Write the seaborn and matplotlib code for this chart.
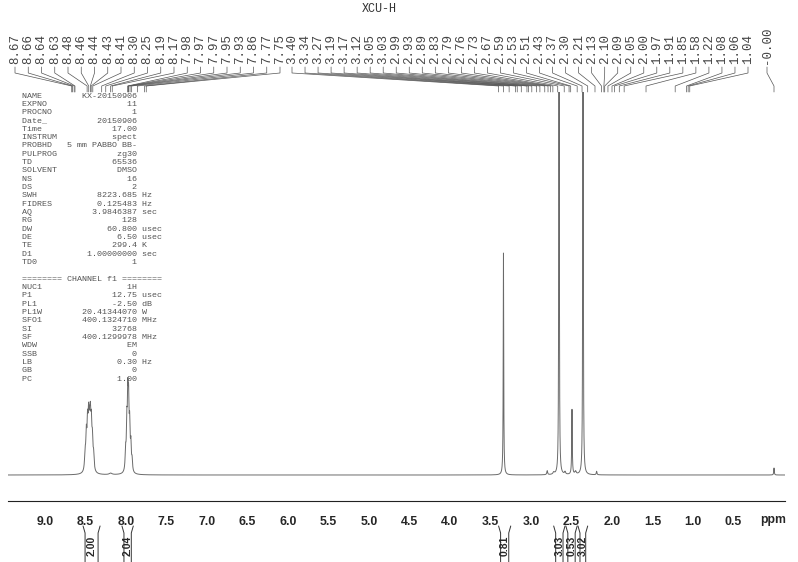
import numpy as np
import pandas as pd
import matplotlib
matplotlib.use("Agg")
import matplotlib.pyplot as plt
from matplotlib.ticker import MultipleLocator, FixedLocator, FuncFormatter
import seaborn as sns

# ---------------- data ----------------
title = "XCU-H"

# resolved lines of the spectrum: position (ppm), height (baseline units), half width (ppm)
peak_ppm = [8.505, 8.49, 8.475, 8.462, 8.45, 8.44, 8.428, 8.415, 8.40, 8.19,
            8.005, 7.99, 7.978, 7.968, 7.955, 7.94, 7.925,
            3.34, 2.80, 2.72, 2.654, 2.58, 2.494, 2.45, 2.358, 2.19, 0.0]
peak_height = [17, 33, 41, 44, 32, 41, 39, 27, 15, 1.5,
               19, 43, 65, 58, 41, 25, 11,
               222, 4, 2, 1500, 2.5, 65, 3, 1500, 3.5, 7]
peak_hwhm = [0.0075, 0.0075, 0.0075, 0.0075, 0.0075, 0.0075, 0.0075, 0.0075, 0.0075, 0.02,
             0.0065, 0.0065, 0.0065, 0.0065, 0.0065, 0.0065, 0.0065,
             0.0035, 0.006, 0.01, 0.002, 0.008, 0.004, 0.01, 0.002, 0.005, 0.004]

peak_labels = ["8.67", "8.66", "8.64", "8.63", "8.48", "8.46", "8.44", "8.43", "8.41",
               "8.30", "8.25", "8.19", "8.17", "7.98", "7.97", "7.97", "7.95", "7.93",
               "7.86", "7.77", "7.75", "3.40", "3.34", "3.27", "3.19", "3.17", "3.12",
               "3.05", "3.03", "2.99", "2.93", "2.89", "2.83", "2.79", "2.76", "2.73",
               "2.67", "2.59", "2.53", "2.51", "2.43", "2.37", "2.30", "2.21", "2.13",
               "2.10", "2.09", "2.05", "2.00", "1.97", "1.91", "1.85", "1.58", "1.22",
               "1.08", "1.06", "1.04", "-0.00"]

integral_values = ["2.00", "2.04", "0.81", "3.03", "0.53", "3.02"]
integral_from = [8.53, 8.05, 3.40, 2.72, 2.57, 2.42]
integral_to = [8.32, 7.91, 3.25, 2.58, 2.43, 2.30]

major_ticks = [9.0, 8.5, 8.0, 7.5, 7.0, 6.5, 6.0, 5.5, 5.0, 4.5, 4.0,
               3.5, 3.0, 2.5, 2.0, 1.5, 1.0, 0.5, 0.0]

param_names = ["NAME", "EXPNO", "PROCNO", "Date_", "Time", "INSTRUM", "PROBHD",
               "PULPROG", "TD", "SOLVENT", "NS", "DS", "SWH", "FIDRES", "AQ", "RG",
               "DW", "DE", "TE", "D1", "TD0"]
param_values = ["KX-20150906", "11", "1", "20150906", "17.00", "spect",
                "5 mm PABBO BB-", "zg30", "65536", "DMSO", "16", "2", "8223.685",
                "0.125483", "3.9846387", "128", "60.800", "6.50", "299.4",
                "1.00000000", "1"]
param_units = ["", "", "", "", "", "", "", "", "", "", "", "", "Hz", "Hz", "sec", "",
               "usec", "usec", "K", "sec", ""]

channel_title = "======== CHANNEL f1 ========"
channel_names = ["NUC1", "P1", "PL1", "PL1W", "SFO1", "SI", "SF", "WDW", "SSB",
                 "LB", "GB", "PC"]
channel_values = ["1H", "12.75", "-2.50", "20.41344070", "400.1324710", "32768",
                  "400.1299978", "EM", "0", "0.30", "0", "1.00"]
channel_units = ["", "usec", "dB", "W", "MHz", "", "MHz", "", "", "Hz", "", ""]

# ---------------- layout helpers ----------------
W, H = 798, 562


def ppm_of_px(px):
    return 9.0 - (px - 45.0) / 81.0


sns.set_style("white")
plt.rcParams["font.family"] = ["Liberation Sans", "DejaVu Sans"]
MONO = ["Liberation Mono", "DejaVu Sans Mono"]

fig = plt.figure(figsize=(W / 100, H / 100), dpi=100)

ax_top_px, ax_bot_px, base_px = 92, 501, 475
ax = fig.add_axes([8 / W, (H - ax_bot_px) / H, (785 - 8) / W, (ax_bot_px - ax_top_px) / H])

# spectrum from the peak list
grid = np.linspace(ppm_of_px(8), ppm_of_px(785), 24000)
inten = np.zeros_like(grid)
for p, h, w in zip(peak_ppm, peak_height, peak_hwhm):
    inten += h * w ** 2 / ((grid - p) ** 2 + w ** 2)
df = pd.DataFrame({"ppm": grid, "intensity": inten})
sns.lineplot(data=df, x="ppm", y="intensity", ax=ax, color="#6a6a6a", lw=0.7,
             estimator=None, sort=False)

ax.set_xlim(ppm_of_px(8), ppm_of_px(785))
ax.set_ylim(-(ax_bot_px - base_px), base_px - ax_top_px)
for s in ["top", "left", "right"]:
    ax.spines[s].set_visible(False)
ax.spines["bottom"].set_color("#222222")
ax.spines["bottom"].set_linewidth(0.8)
ax.set_yticks([])
ax.set_xlabel("")
ax.set_ylabel("")
ax.xaxis.set_major_locator(FixedLocator(major_ticks))
ax.xaxis.set_minor_locator(MultipleLocator(0.1))
ax.xaxis.set_major_formatter(FuncFormatter(lambda v, _: "" if abs(v) < 1e-6 else f"{v:.1f}"))
ax.tick_params(axis="x", which="major", direction="out", length=4.0, width=0.8,
               color="#222222", pad=7, labelsize=8.8)
ax.tick_params(axis="x", which="minor", direction="out", length=2.0, width=0.6,
               color="#222222")
for lab in ax.get_xticklabels():
    lab.set_fontweight("bold")

# overlay axes in pixel rows for annotations
ov = fig.add_axes([0, 0, 1, 1], facecolor="none")
ov.set_xlim(ppm_of_px(0), ppm_of_px(W))
ov.set_ylim(H, 0)
ov.axis("off")

ov.text(ppm_of_px(773), 520, "ppm", ha="center", va="center", fontsize=8.8,
        fontweight="bold")

ov.text(ppm_of_px(379), 8.5, title, ha="center", va="center", fontsize=8.5,
        family=MONO, color="#333333")

# peak labels with connectors
n_first = 21
label_px = (list(np.linspace(15, 280, n_first))
            + list(np.linspace(292, 748, len(peak_labels) - 1 - n_first))
            + [767])
for lab, lpx in zip(peak_labels, label_px):
    xl = ppm_of_px(lpx)
    xp = float(lab)
    ov.text(xl, 64, lab, rotation=90, ha="center", va="bottom", fontsize=9,
            family=MONO, color="#444444")
    ov.plot([xl, xl, xp, xp], [67, 73, 86, 92], color="#555555", lw=0.5)

# parameter block
lines = []
for n, v, u in zip(param_names, param_values, param_units):
    lines.append(f"{n:<8}{v:>15} {u}".rstrip())
lines.append("")
lines.append(channel_title)
for n, v, u in zip(channel_names, channel_values, channel_units):
    lines.append(f"{n:<8}{v:>15} {u}".rstrip())
for k, s in enumerate(lines):
    if s:
        ov.text(ppm_of_px(22), 96 + k * 8.33, s, ha="left", va="center", fontsize=6,
                family=MONO, color="#555555")

# integrals
dx = 2.0 / 81.0
for val, a, b in zip(integral_values, integral_from, integral_to):
    ov.plot([a, a - dx, a - dx], [526, 533, 562], color="#333333", lw=0.7)
    ov.plot([b, b + dx, b + dx], [526, 533, 562], color="#333333", lw=0.7)
    ov.text((a + b) / 2, 546, val, rotation=90, ha="center", va="center",
            fontsize=7.5, fontweight="bold")

fig.savefig("out.png", dpi=100)
